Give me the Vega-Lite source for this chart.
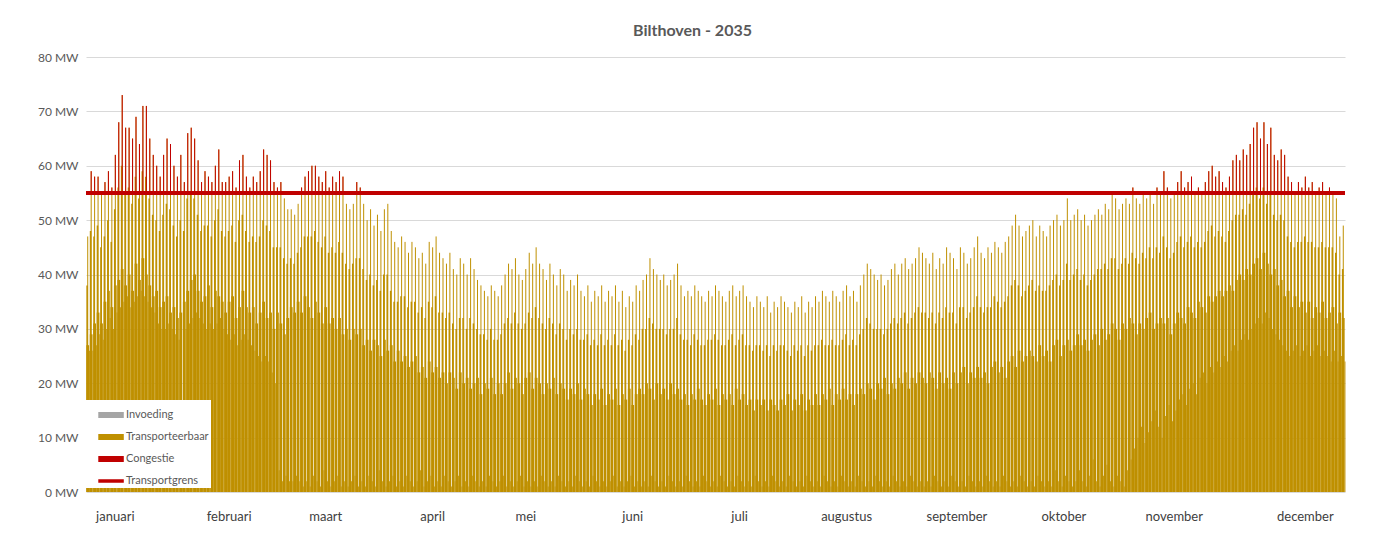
{
"$schema":"https://vega.github.io/schema/vega-lite/v6.json",
"autosize":{"type":"none"},
"width":1259,"height":435,
"padding":{"left":86,"top":57,"right":39,"bottom":42},
"background":"white",
"title":{"text":"Bilthoven - 2035","font":"Lato","fontSize":16,"fontWeight":"bold","color":"#595959","anchor":"middle","dx":-23,"offset":12},
"datasets":{"load":[
{"d":0,"b":27,"m":26,"q":38,"p":47},{"d":1,"b":29,"m":26,"q":48,"p":59},{"d":2,"b":31,"m":27,"q":47,"p":58},{"d":3,"b":33,"m":29,"q":49,"p":58},{"d":4,"b":31,"m":28,"q":45,"p":55},{"d":5,"b":35,"m":30,"q":47,"p":57},{"d":6,"b":37,"m":32,"q":50,"p":59},{"d":7,"b":34,"m":30,"q":46,"p":56},{"d":8,"b":38,"m":33,"q":52,"p":62},{"d":9,"b":39,"m":34,"q":56,"p":68},{"d":10,"b":41,"m":35,"q":60,"p":73},{"d":11,"b":38,"m":36,"q":55,"p":67},{"d":12,"b":40,"m":34,"q":56,"p":67},{"d":13,"b":37,"m":35,"q":53,"p":65},{"d":14,"b":42,"m":36,"q":58,"p":69},{"d":15,"b":39,"m":37,"q":54,"p":64},{"d":16,"b":43,"m":36,"q":59,"p":71},{"d":17,"b":40,"m":35,"q":58,"p":71},{"d":18,"b":38,"m":34,"q":54,"p":65},{"d":19,"b":36,"m":33,"q":51,"p":62},{"d":20,"b":37,"m":31,"q":50,"p":60},{"d":21,"b":34,"m":30,"q":48,"p":58},{"d":22,"b":35,"m":30,"q":51,"p":62},{"d":23,"b":36,"m":31,"q":53,"p":65},{"d":24,"b":33,"m":30,"q":52,"p":64},{"d":25,"b":34,"m":29,"q":49,"p":60},{"d":26,"b":32,"m":28,"q":47,"p":58},{"d":27,"b":33,"m":3,"q":50,"p":62},{"d":28,"b":35,"m":30,"q":48,"p":57},{"d":29,"b":37,"m":31,"q":54,"p":66},{"d":30,"b":39,"m":32,"q":55,"p":67},
{"d":31,"b":40,"m":33,"q":54,"p":65},{"d":32,"b":37,"m":32,"q":51,"p":61},{"d":33,"b":35,"m":31,"q":48,"p":57},{"d":34,"b":36,"m":30,"q":49,"p":59},{"d":35,"b":38,"m":31,"q":49,"p":58},{"d":36,"b":34,"m":30,"q":47,"p":57},{"d":37,"b":37,"m":31,"q":50,"p":60},{"d":38,"b":36,"m":32,"q":52,"p":63},{"d":39,"b":35,"m":30,"q":48,"p":57},{"d":40,"b":33,"m":29,"q":47,"p":57},{"d":41,"b":35,"m":28,"q":48,"p":58},{"d":42,"b":36,"m":29,"q":49,"p":59},{"d":43,"b":32,"m":27,"q":46,"p":56},{"d":44,"b":34,"m":28,"q":50,"p":61},{"d":45,"b":37,"m":29,"q":51,"p":62},{"d":46,"b":34,"m":28,"q":48,"p":58},{"d":47,"b":33,"m":27,"q":46,"p":56},{"d":48,"b":34,"m":26,"q":47,"p":58},{"d":49,"b":31,"m":25,"q":46,"p":57},{"d":50,"b":33,"m":24,"q":47,"p":59},{"d":51,"b":35,"m":25,"q":50,"p":63},{"d":52,"b":32,"m":24,"q":49,"p":62},{"d":53,"b":33,"m":22,"q":48,"p":61},{"d":54,"b":30,"m":20,"q":45,"p":57},{"d":55,"b":33,"m":4,"q":45,"p":56},{"d":56,"b":31,"m":2,"q":45,"p":57},{"d":57,"b":29,"m":3,"q":43,"p":54},{"d":58,"b":32,"m":2,"q":42,"p":52},
{"d":59,"b":34,"m":2,"q":43,"p":52},{"d":60,"b":33,"m":3,"q":42,"p":51},{"d":61,"b":35,"m":2,"q":44,"p":53},{"d":62,"b":33,"m":1,"q":45,"p":56},{"d":63,"b":36,"m":2,"q":47,"p":58},{"d":64,"b":34,"m":1,"q":47,"p":59},{"d":65,"b":32,"m":3,"q":47,"p":60},{"d":66,"b":35,"m":2,"q":48,"p":60},{"d":67,"b":33,"m":1,"q":46,"p":58},{"d":68,"b":31,"m":4,"q":45,"p":57},{"d":69,"b":34,"m":2,"q":47,"p":59},{"d":70,"b":31,"m":1,"q":44,"p":56},{"d":71,"b":32,"m":2,"q":45,"p":58},{"d":72,"b":30,"m":3,"q":44,"p":57},{"d":73,"b":32,"m":1,"q":46,"p":59},{"d":74,"b":29,"m":2,"q":44,"p":58},{"d":75,"b":30,"m":1,"q":42,"p":53},{"d":76,"b":28,"m":2,"q":41,"p":52},{"d":77,"b":30,"m":3,"q":42,"p":53},{"d":78,"b":29,"m":1,"q":43,"p":57},{"d":79,"b":30,"m":2,"q":43,"p":56},{"d":80,"b":27,"m":1,"q":41,"p":53},{"d":81,"b":28,"m":3,"q":39,"p":50},{"d":82,"b":26,"m":2,"q":40,"p":52},{"d":83,"b":28,"m":1,"q":38,"p":49},{"d":84,"b":27,"m":4,"q":39,"p":51},{"d":85,"b":25,"m":2,"q":37,"p":48},{"d":86,"b":28,"m":1,"q":40,"p":52},{"d":87,"b":26,"m":2,"q":40,"p":53},{"d":88,"b":27,"m":3,"q":37,"p":48},{"d":89,"b":24,"m":1,"q":35,"p":46},
{"d":90,"b":26,"m":2,"q":35,"p":45},{"d":91,"b":24,"m":1,"q":36,"p":47},{"d":92,"b":25,"m":3,"q":36,"p":46},{"d":93,"b":23,"m":2,"q":34,"p":44},{"d":94,"b":24,"m":1,"q":35,"p":46},{"d":95,"b":25,"m":2,"q":35,"p":45},{"d":96,"b":22,"m":4,"q":33,"p":43},{"d":97,"b":23,"m":1,"q":34,"p":44},{"d":98,"b":21,"m":2,"q":32,"p":42},{"d":99,"b":24,"m":3,"q":35,"p":46},{"d":100,"b":22,"m":1,"q":34,"p":45},{"d":101,"b":23,"m":2,"q":36,"p":47},{"d":102,"b":21,"m":1,"q":33,"p":44},{"d":103,"b":22,"m":3,"q":33,"p":43},{"d":104,"b":20,"m":2,"q":32,"p":42},{"d":105,"b":22,"m":1,"q":33,"p":44},{"d":106,"b":21,"m":2,"q":31,"p":41},{"d":107,"b":19,"m":3,"q":30,"p":40},{"d":108,"b":22,"m":1,"q":32,"p":43},{"d":109,"b":20,"m":2,"q":32,"p":42},{"d":110,"b":21,"m":1,"q":30,"p":40},{"d":111,"b":19,"m":3,"q":32,"p":43},{"d":112,"b":20,"m":2,"q":31,"p":41},{"d":113,"b":21,"m":1,"q":30,"p":39},{"d":114,"b":18,"m":2,"q":29,"p":38},{"d":115,"b":20,"m":1,"q":29,"p":37},{"d":116,"b":19,"m":3,"q":28,"p":36},{"d":117,"b":21,"m":2,"q":30,"p":38},{"d":118,"b":18,"m":1,"q":28,"p":37},{"d":119,"b":20,"m":2,"q":28,"p":36},
{"d":120,"b":18,"m":3,"q":29,"p":38},{"d":121,"b":20,"m":1,"q":31,"p":40},{"d":122,"b":22,"m":2,"q":32,"p":42},{"d":123,"b":19,"m":1,"q":31,"p":41},{"d":124,"b":21,"m":2,"q":33,"p":43},{"d":125,"b":20,"m":3,"q":31,"p":40},{"d":126,"b":18,"m":1,"q":30,"p":39},{"d":127,"b":21,"m":2,"q":31,"p":41},{"d":128,"b":22,"m":1,"q":33,"p":44},{"d":129,"b":19,"m":2,"q":32,"p":42},{"d":130,"b":21,"m":1,"q":34,"p":45},{"d":131,"b":20,"m":3,"q":32,"p":42},{"d":132,"b":18,"m":2,"q":31,"p":41},{"d":133,"b":20,"m":1,"q":30,"p":39},{"d":134,"b":19,"m":2,"q":32,"p":42},{"d":135,"b":21,"m":1,"q":31,"p":40},{"d":136,"b":18,"m":3,"q":29,"p":38},{"d":137,"b":20,"m":2,"q":31,"p":41},{"d":138,"b":19,"m":1,"q":30,"p":40},{"d":139,"b":17,"m":2,"q":28,"p":37},{"d":140,"b":19,"m":1,"q":30,"p":39},{"d":141,"b":18,"m":3,"q":29,"p":38},{"d":142,"b":20,"m":2,"q":30,"p":40},{"d":143,"b":17,"m":1,"q":28,"p":37},{"d":144,"b":19,"m":2,"q":28,"p":36},{"d":145,"b":18,"m":1,"q":29,"p":38},{"d":146,"b":16,"m":3,"q":27,"p":35},{"d":147,"b":18,"m":2,"q":28,"p":37},{"d":148,"b":17,"m":1,"q":27,"p":36},{"d":149,"b":19,"m":2,"q":29,"p":38},{"d":150,"b":16,"m":1,"q":27,"p":35},
{"d":151,"b":18,"m":2,"q":28,"p":37},{"d":152,"b":17,"m":3,"q":27,"p":36},{"d":153,"b":19,"m":1,"q":29,"p":38},{"d":154,"b":16,"m":2,"q":27,"p":35},{"d":155,"b":18,"m":1,"q":28,"p":37},{"d":156,"b":17,"m":2,"q":26,"p":34},{"d":157,"b":19,"m":3,"q":28,"p":36},{"d":158,"b":16,"m":1,"q":27,"p":35},{"d":159,"b":18,"m":2,"q":29,"p":38},{"d":160,"b":19,"m":1,"q":28,"p":37},{"d":161,"b":18,"m":2,"q":30,"p":39},{"d":162,"b":20,"m":1,"q":30,"p":40},{"d":163,"b":19,"m":3,"q":32,"p":43},{"d":164,"b":17,"m":2,"q":31,"p":41},{"d":165,"b":20,"m":1,"q":30,"p":40},{"d":166,"b":18,"m":2,"q":30,"p":39},{"d":167,"b":19,"m":1,"q":30,"p":40},{"d":168,"b":17,"m":3,"q":29,"p":38},{"d":169,"b":20,"m":2,"q":30,"p":39},{"d":170,"b":18,"m":1,"q":30,"p":40},{"d":171,"b":19,"m":2,"q":32,"p":42},{"d":172,"b":17,"m":1,"q":29,"p":38},{"d":173,"b":18,"m":3,"q":28,"p":36},{"d":174,"b":16,"m":2,"q":28,"p":37},{"d":175,"b":18,"m":1,"q":27,"p":36},{"d":176,"b":17,"m":2,"q":29,"p":38},{"d":177,"b":19,"m":1,"q":28,"p":37},{"d":178,"b":17,"m":3,"q":27,"p":36},{"d":179,"b":16,"m":2,"q":27,"p":35},{"d":180,"b":18,"m":1,"q":28,"p":37},
{"d":181,"b":17,"m":2,"q":28,"p":36},{"d":182,"b":19,"m":1,"q":29,"p":38},{"d":183,"b":16,"m":3,"q":28,"p":37},{"d":184,"b":18,"m":2,"q":27,"p":36},{"d":185,"b":17,"m":1,"q":27,"p":35},{"d":186,"b":18,"m":2,"q":28,"p":37},{"d":187,"b":16,"m":1,"q":29,"p":38},{"d":188,"b":19,"m":3,"q":27,"p":36},{"d":189,"b":17,"m":2,"q":28,"p":37},{"d":190,"b":18,"m":1,"q":29,"p":38},{"d":191,"b":16,"m":2,"q":27,"p":36},{"d":192,"b":17,"m":1,"q":27,"p":35},{"d":193,"b":15,"m":3,"q":26,"p":34},{"d":194,"b":17,"m":2,"q":27,"p":36},{"d":195,"b":16,"m":1,"q":27,"p":35},{"d":196,"b":17,"m":2,"q":26,"p":34},{"d":197,"b":15,"m":1,"q":27,"p":36},{"d":198,"b":17,"m":3,"q":25,"p":33},{"d":199,"b":16,"m":2,"q":27,"p":35},{"d":200,"b":15,"m":1,"q":26,"p":34},{"d":201,"b":17,"m":2,"q":27,"p":36},{"d":202,"b":16,"m":1,"q":27,"p":35},{"d":203,"b":18,"m":3,"q":26,"p":34},{"d":204,"b":15,"m":2,"q":25,"p":33},{"d":205,"b":17,"m":1,"q":27,"p":35},{"d":206,"b":16,"m":2,"q":26,"p":34},{"d":207,"b":18,"m":1,"q":27,"p":36},{"d":208,"b":15,"m":3,"q":25,"p":33},{"d":209,"b":17,"m":2,"q":27,"p":35},{"d":210,"b":16,"m":1,"q":26,"p":34},{"d":211,"b":18,"m":2,"q":27,"p":36},
{"d":212,"b":16,"m":1,"q":27,"p":35},{"d":213,"b":18,"m":3,"q":28,"p":37},{"d":214,"b":17,"m":2,"q":27,"p":36},{"d":215,"b":19,"m":1,"q":27,"p":35},{"d":216,"b":16,"m":2,"q":28,"p":37},{"d":217,"b":18,"m":1,"q":27,"p":36},{"d":218,"b":17,"m":3,"q":27,"p":35},{"d":219,"b":19,"m":2,"q":28,"p":37},{"d":220,"b":17,"m":1,"q":29,"p":38},{"d":221,"b":18,"m":2,"q":27,"p":36},{"d":222,"b":16,"m":1,"q":28,"p":37},{"d":223,"b":18,"m":3,"q":27,"p":35},{"d":224,"b":19,"m":2,"q":29,"p":38},{"d":225,"b":18,"m":1,"q":30,"p":40},{"d":226,"b":20,"m":2,"q":32,"p":42},{"d":227,"b":19,"m":1,"q":31,"p":41},{"d":228,"b":17,"m":3,"q":30,"p":40},{"d":229,"b":20,"m":2,"q":30,"p":39},{"d":230,"b":19,"m":1,"q":30,"p":40},{"d":231,"b":21,"m":2,"q":29,"p":38},{"d":232,"b":18,"m":1,"q":30,"p":39},{"d":233,"b":20,"m":3,"q":31,"p":41},{"d":234,"b":19,"m":2,"q":32,"p":42},{"d":235,"b":21,"m":1,"q":31,"p":40},{"d":236,"b":20,"m":2,"q":32,"p":42},{"d":237,"b":22,"m":1,"q":33,"p":43},{"d":238,"b":19,"m":3,"q":31,"p":41},{"d":239,"b":21,"m":2,"q":32,"p":42},{"d":240,"b":20,"m":1,"q":33,"p":43},{"d":241,"b":22,"m":2,"q":34,"p":45},{"d":242,"b":21,"m":1,"q":33,"p":44},
{"d":243,"b":20,"m":2,"q":33,"p":43},{"d":244,"b":22,"m":1,"q":32,"p":42},{"d":245,"b":21,"m":3,"q":33,"p":44},{"d":246,"b":19,"m":2,"q":31,"p":41},{"d":247,"b":22,"m":1,"q":33,"p":43},{"d":248,"b":20,"m":2,"q":32,"p":42},{"d":249,"b":21,"m":1,"q":34,"p":45},{"d":250,"b":19,"m":3,"q":33,"p":44},{"d":251,"b":22,"m":2,"q":33,"p":43},{"d":252,"b":20,"m":1,"q":31,"p":41},{"d":253,"b":22,"m":2,"q":34,"p":45},{"d":254,"b":23,"m":1,"q":34,"p":44},{"d":255,"b":20,"m":3,"q":32,"p":42},{"d":256,"b":22,"m":2,"q":33,"p":43},{"d":257,"b":21,"m":1,"q":34,"p":45},{"d":258,"b":23,"m":2,"q":36,"p":47},{"d":259,"b":21,"m":1,"q":34,"p":44},{"d":260,"b":22,"m":3,"q":33,"p":43},{"d":261,"b":20,"m":2,"q":34,"p":45},{"d":262,"b":23,"m":1,"q":34,"p":44},{"d":263,"b":24,"m":2,"q":36,"p":46},{"d":264,"b":22,"m":1,"q":35,"p":45},{"d":265,"b":23,"m":3,"q":34,"p":44},{"d":266,"b":21,"m":2,"q":35,"p":46},{"d":267,"b":24,"m":1,"q":36,"p":47},{"d":268,"b":25,"m":2,"q":38,"p":49},{"d":269,"b":23,"m":1,"q":39,"p":51},{"d":270,"b":26,"m":3,"q":38,"p":49},{"d":271,"b":24,"m":2,"q":36,"p":47},{"d":272,"b":25,"m":1,"q":37,"p":48},
{"d":273,"b":26,"m":2,"q":38,"p":49},{"d":274,"b":25,"m":1,"q":39,"p":50},{"d":275,"b":24,"m":3,"q":37,"p":47},{"d":276,"b":27,"m":2,"q":38,"p":49},{"d":277,"b":25,"m":1,"q":37,"p":48},{"d":278,"b":26,"m":2,"q":37,"p":47},{"d":279,"b":24,"m":1,"q":38,"p":49},{"d":280,"b":27,"m":4,"q":39,"p":50},{"d":281,"b":28,"m":2,"q":40,"p":51},{"d":282,"b":25,"m":1,"q":38,"p":49},{"d":283,"b":27,"m":3,"q":39,"p":50},{"d":284,"b":28,"m":2,"q":42,"p":54},{"d":285,"b":26,"m":1,"q":39,"p":50},{"d":286,"b":27,"m":2,"q":40,"p":51},{"d":287,"b":29,"m":4,"q":41,"p":52},{"d":288,"b":27,"m":2,"q":39,"p":50},{"d":289,"b":28,"m":1,"q":40,"p":51},{"d":290,"b":26,"m":3,"q":38,"p":49},{"d":291,"b":28,"m":6,"q":39,"p":50},{"d":292,"b":29,"m":2,"q":40,"p":51},{"d":293,"b":27,"m":1,"q":41,"p":52},{"d":294,"b":30,"m":3,"q":41,"p":51},{"d":295,"b":28,"m":5,"q":42,"p":53},{"d":296,"b":29,"m":2,"q":41,"p":52},{"d":297,"b":31,"m":1,"q":43,"p":55},{"d":298,"b":30,"m":3,"q":43,"p":54},{"d":299,"b":28,"m":2,"q":41,"p":52},{"d":300,"b":31,"m":1,"q":42,"p":53},{"d":301,"b":30,"m":4,"q":43,"p":54},{"d":302,"b":32,"m":6,"q":42,"p":53},{"d":303,"b":31,"m":8,"q":44,"p":56},
{"d":304,"b":29,"m":10,"q":43,"p":54},{"d":305,"b":31,"m":12,"q":42,"p":53},{"d":306,"b":30,"m":9,"q":44,"p":55},{"d":307,"b":32,"m":11,"q":43,"p":54},{"d":308,"b":33,"m":13,"q":45,"p":55},{"d":309,"b":30,"m":15,"q":43,"p":53},{"d":310,"b":31,"m":12,"q":45,"p":56},{"d":311,"b":32,"m":10,"q":44,"p":55},{"d":312,"b":31,"m":14,"q":47,"p":59},{"d":313,"b":32,"m":16,"q":45,"p":56},{"d":314,"b":29,"m":13,"q":43,"p":54},{"d":315,"b":31,"m":15,"q":44,"p":55},{"d":316,"b":33,"m":17,"q":46,"p":57},{"d":317,"b":32,"m":18,"q":47,"p":59},{"d":318,"b":31,"m":16,"q":45,"p":56},{"d":319,"b":34,"m":19,"q":46,"p":57},{"d":320,"b":33,"m":20,"q":47,"p":58},{"d":321,"b":32,"m":18,"q":45,"p":55},{"d":322,"b":35,"m":21,"q":46,"p":56},{"d":323,"b":34,"m":22,"q":45,"p":55},{"d":324,"b":33,"m":20,"q":46,"p":57},{"d":325,"b":36,"m":23,"q":48,"p":59},{"d":326,"b":35,"m":22,"q":49,"p":60},{"d":327,"b":36,"m":24,"q":47,"p":58},{"d":328,"b":37,"m":23,"q":48,"p":59},{"d":329,"b":36,"m":25,"q":47,"p":57},{"d":330,"b":37,"m":24,"q":46,"p":56},{"d":331,"b":38,"m":26,"q":48,"p":58},{"d":332,"b":37,"m":27,"q":50,"p":61},{"d":333,"b":39,"m":26,"q":51,"p":62},
{"d":334,"b":40,"m":28,"q":51,"p":61},{"d":335,"b":39,"m":29,"q":52,"p":63},{"d":336,"b":41,"m":28,"q":51,"p":62},{"d":337,"b":40,"m":30,"q":53,"p":64},{"d":338,"b":42,"m":31,"q":55,"p":67},{"d":339,"b":43,"m":32,"q":56,"p":68},{"d":340,"b":41,"m":31,"q":54,"p":65},{"d":341,"b":44,"m":33,"q":56,"p":68},{"d":342,"b":42,"m":32,"q":53,"p":64},{"d":343,"b":40,"m":30,"q":55,"p":67},{"d":344,"b":41,"m":29,"q":51,"p":62},{"d":345,"b":38,"m":28,"q":50,"p":61},{"d":346,"b":39,"m":27,"q":51,"p":63},{"d":347,"b":36,"m":26,"q":50,"p":62},{"d":348,"b":37,"m":25,"q":47,"p":58},{"d":349,"b":34,"m":26,"q":46,"p":57},{"d":350,"b":36,"m":27,"q":45,"p":55},{"d":351,"b":34,"m":25,"q":46,"p":57},{"d":352,"b":35,"m":26,"q":46,"p":56},{"d":353,"b":33,"m":27,"q":47,"p":58},{"d":354,"b":35,"m":25,"q":46,"p":56},{"d":355,"b":32,"m":26,"q":46,"p":57},{"d":356,"b":34,"m":27,"q":45,"p":55},{"d":357,"b":33,"m":25,"q":45,"p":56},{"d":358,"b":35,"m":26,"q":46,"p":57},{"d":359,"b":32,"m":25,"q":45,"p":55},{"d":360,"b":33,"m":24,"q":45,"p":56},{"d":361,"b":34,"m":26,"q":45,"p":55},{"d":362,"b":31,"m":24,"q":44,"p":54},{"d":363,"b":33,"m":25,"q":40,"p":47},{"d":364,"b":32,"m":24,"q":41,"p":49}
]},
"data":{"name":"load"},
"layer":[
{"mark":{"type":"bar","width":{"band":0.8}},
 "encoding":{
  "x":{"field":"d","type":"ordinal","title":null,"scale":{"paddingInner":0,"paddingOuter":0},
       "axis":{"values":[8,41,69,100,127,158,189,220,252,283,315,353],
               "labelExpr":"['januari','februari','maart','april','mei','juni','juli','augustus','september','oktober','november','december'][indexof([8,41,69,100,127,158,189,220,252,283,315,353], datum.value)]"}},
  "y":{"field":"b","type":"quantitative","title":null,"scale":{"domain":[0,80],"nice":false},
       "axis":{"values":[0,10,20,30,40,50,60,70,80],"labelExpr":"datum.value + ' MW'"}},
  "color":{"datum":"Transporteerbaar",
    "scale":{"domain":["Invoeding","Transporteerbaar","Congestie","Transportgrens"],"range":["#A5A5A5","#BF9000","#C00000","#C00000"]},
    "legend":{"title":null,"orient":"none","legendX":-1,"legendY":343,"padding":2,"fillColor":"white","strokeColor":null,
      "labelFont":"Lato","labelFontSize":11,"labelColor":"#595959","labelOffset":13,"rowPadding":3,
      "symbolSize":576,"symbolType":"M-0.08,-0.19H1.92V0.19H-0.08Z",
      "encode":{"symbols":{"update":{
        "shape":{"signal":"datum.value === 'Transportgrens' ? 'M-0.08,-0.085H1.92V0.085H-0.08Z' : 'M-0.08,-0.19H1.92V0.19H-0.08Z'"},
        "fill":{"scale":"color","field":"value"},
        "stroke":{"value":"transparent"},
        "opacity":{"value":1},"fillOpacity":{"value":1}}}}}}
 }},
{"mark":{"type":"bar","width":{"band":0.45},"xOffset":-0.6},
 "encoding":{"x":{"field":"d","type":"ordinal"},"y":{"field":"q","type":"quantitative","title":null},"color":{"datum":"Transporteerbaar"}}},
{"mark":{"type":"bar","width":{"band":0.25},"xOffset":1.72},
 "encoding":{"x":{"field":"d","type":"ordinal"},"y":{"field":"m","type":"quantitative","title":null},"color":{"datum":"Transporteerbaar"}}},
{"mark":{"type":"rule","strokeWidth":1},
 "encoding":{"x":{"field":"d","type":"ordinal"},"y":{"field":"p","type":"quantitative","title":null},"y2":{"datum":0},"color":{"datum":"Transporteerbaar"}}},
{"transform":[{"filter":"datum.p > 55"}],
 "mark":{"type":"rule","strokeWidth":1},
 "encoding":{"x":{"field":"d","type":"ordinal"},"y":{"field":"p","type":"quantitative","title":null},"y2":{"datum":55},"color":{"datum":"Congestie"}}},
{"mark":{"type":"rule","strokeWidth":3},
 "encoding":{"y":{"datum":55,"type":"quantitative"},"color":{"datum":"Transportgrens"}}}
],
"config":{
 "font":"Lato",
 "view":{"stroke":null},
 "axis":{"grid":false,"domain":false,"ticks":false,"labelFont":"Lato","labelColor":"#595959","labelFontSize":12},
 "axisY":{"grid":true,"gridColor":"#D9D9D9","gridWidth":1,"labelPadding":8},
 "axisX":{"labelPadding":18,"labelAngle":0,"labelColor":"#404040","labelFontSize":13}
}
}
